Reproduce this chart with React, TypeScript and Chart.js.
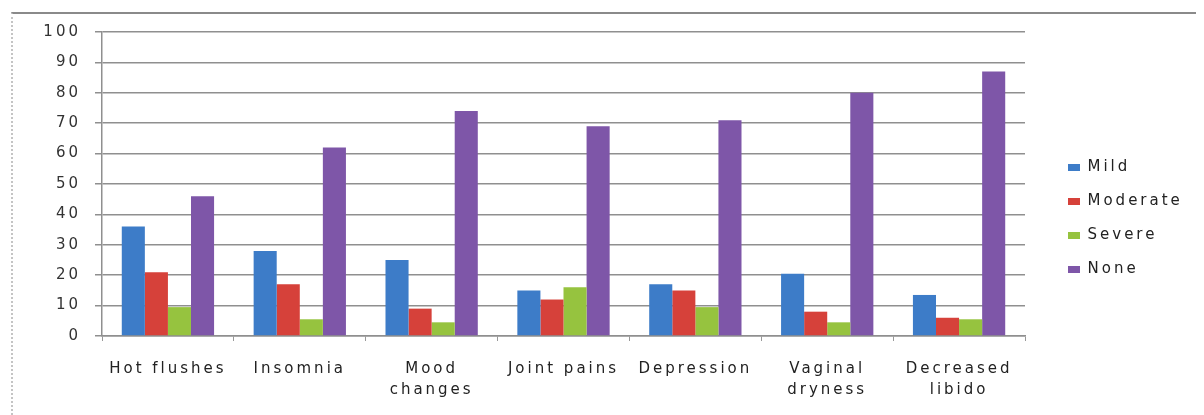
import { useEffect, useRef } from 'react';
import { Chart, registerables } from 'chart.js';

Chart.register(...registerables);

const categories: (string | string[])[] = [
  'Hot flushes',
  'Insomnia',
  ['Mood', 'changes'],
  'Joint pains',
  'Depression',
  ['Vaginal', 'dryness'],
  ['Decreased', 'libido'],
];
const mild = [36, 28, 25, 15, 17, 20.5, 13.5];
const moderate = [21, 17, 9, 12, 15, 8, 6];
const severe = [9.5, 5.5, 4.5, 16, 9.5, 4.5, 5.5];
const none = [46, 62, 74, 69, 71, 80, 87];
const seriesNames = ['Mild', 'Moderate', 'Severe', 'None'];
const seriesColors = ['#3D7CC8', '#D6413A', '#96C33F', '#7E56A8'];
const yTicks = [0, 10, 20, 30, 40, 50, 60, 70, 80, 90, 100];

const FONT = '"DejaVu Sans", Verdana, sans-serif';
const SPACING = '3px';

const helperPlugin = {
  id: 'helper',
  beforeUpdate(chart: any) {
    chart.ctx.letterSpacing = SPACING;
  },
  beforeDraw(chart: any) {
    chart.ctx.letterSpacing = SPACING;
  },
  afterLayout(chart: any) {
    const l = chart.legend;
    if (l) {
      l.left = chart.chartArea.right + 24;
      l.right = chart.width;
      l.width = l.right - l.left;
      l.top -= 5;
      l.bottom -= 5;
    }
  },
};

export default function App() {
  const ref = useRef<HTMLCanvasElement | null>(null);
  useEffect(() => {
    if (!ref.current) return;
    const values = [mild, moderate, severe, none];
    const chart = new Chart(ref.current, {
      type: 'bar',
      data: {
        labels: categories,
        datasets: seriesNames.map((name, i) => ({
          label: name,
          data: values[i],
          backgroundColor: seriesColors[i],
          borderWidth: 0,
          barPercentage: 1,
          categoryPercentage: 0.7,
        })),
      },
      options: {
        animation: false,
        responsive: true,
        maintainAspectRatio: false,
        layout: { padding: { top: 18, right: 51, bottom: 0, left: 0 } },
        plugins: {
          tooltip: { enabled: false },
          legend: {
            position: 'right',
            align: 'center',
            maxWidth: 120,
            labels: {
              boxWidth: 12,
              boxHeight: 7,
              padding: 19,
              color: '#222',
              font: { family: FONT, size: 15, lineHeight: 1.2 },
            },
          },
        },
        scales: {
          x: {
            grid: {
              drawOnChartArea: false,
              drawTicks: true,
              tickLength: 5,
              color: '#999',
              offset: true,
            },
            border: { color: '#8f8f8f', width: 1.5 },
            ticks: {
              padding: 18,
              color: '#222',
              maxRotation: 0,
              autoSkip: false,
              font: { family: FONT, size: 15, lineHeight: 1.4 },
            },
            afterFit(s: any) {
              s.height = 79;
            },
          },
          y: {
            min: 0,
            max: 100,
            afterBuildTicks(s: any) {
              s.ticks = yTicks.map((v) => ({ value: v }));
            },
            grid: { color: '#8f8f8f', lineWidth: 1.5, tickLength: 7 },
            border: { color: '#8f8f8f', width: 1.5 },
            ticks: {
              padding: 14,
              color: '#333',
              font: { family: FONT, size: 15 },
            },
            afterFit(s: any) {
              s.width = 89;
              s.paddingTop = 0;
              s.paddingBottom = 0;
            },
          },
        },
      },
      plugins: [helperPlugin],
    } as any);
    return () => chart.destroy();
  }, []);

  return (
    <div style={{ padding: '4px 0 0 3px' }}>
      <div
        style={{
          borderTop: '2px solid #8a8a8a',
          borderLeft: '2px dotted #c4c4c4',
          height: 401,
          position: 'relative',
        }}
      >
        <canvas ref={ref} />
      </div>
    </div>
  );
}
